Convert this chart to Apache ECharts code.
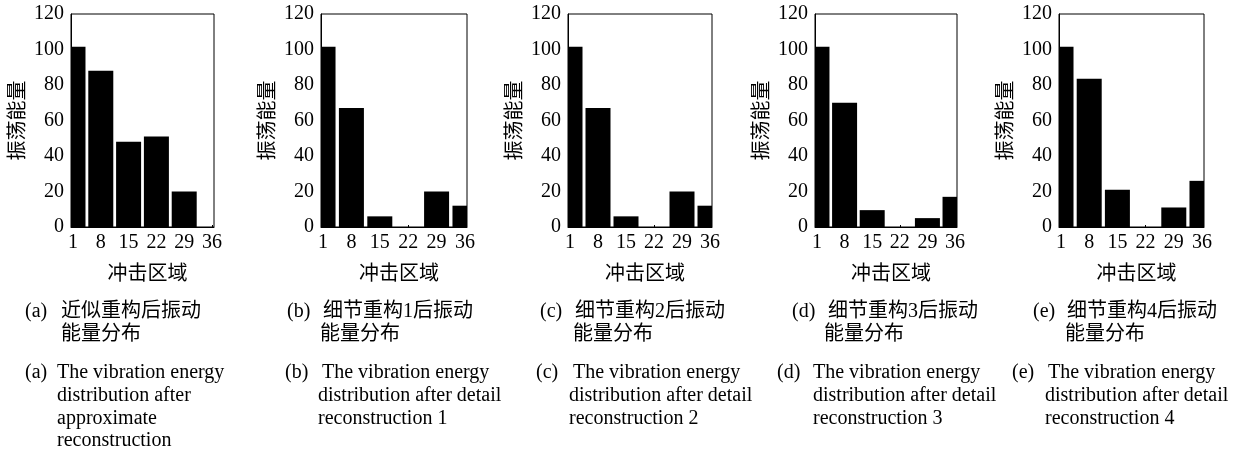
<!DOCTYPE html>
<html><head><meta charset="utf-8">
<script src="https://cdn.jsdelivr.net/npm/echarts@6/dist/echarts.min.js"></script>
<style>html,body{margin:0;padding:0;background:#fff}#c{width:1254px;height:455px}</style>
</head><body><div id="c"></div>
<script>
// ---- data ----
const regions = [1, 8, 15, 22, 29, 36];
const energyA = [101.5, 88, 48, 51, 20, 0];
const energyB = [101.5, 67, 6, 0, 20, 12];
const energyC = [101.5, 67, 6, 0, 20, 12];
const energyD = [101.5, 70, 9.5, 0, 5, 17];
const energyE = [101.5, 83.5, 21, 0, 11, 26];
const panelTags = ['(a)', '(b)', '(c)', '(d)', '(e)'];
const zhTitles = [
  ['近似重构后振动', '能量分布'],
  ['细节重构1后振动', '能量分布'],
  ['细节重构2后振动', '能量分布'],
  ['细节重构3后振动', '能量分布'],
  ['细节重构4后振动', '能量分布']
];
const enTitles = [
  ['The vibration energy', 'distribution after', 'approximate', 'reconstruction'],
  ['The vibration energy', 'distribution after detail', 'reconstruction 1'],
  ['The vibration energy', 'distribution after detail', 'reconstruction 2'],
  ['The vibration energy', 'distribution after detail', 'reconstruction 3'],
  ['The vibration energy', 'distribution after detail', 'reconstruction 4']
];
const xName = '冲击区域';
const yName = '振荡能量';
const allEnergy = [energyA, energyB, energyC, energyD, energyE];

// ---- layout ----
const gridLeft = [71, 321, 568, 815, 1059];
const gridWidth = [143, 146, 144, 142, 145];
const gridTop = 14, gridHeight = 213;
const barPx = 25;
// caption x positions: [zhTag, zhLine1, zhLine2, enTag, enLine1, enRest]
const capX = [
  [25, 61, 61, 25, 57, 57],
  [287, 323, 320, 285, 322, 318],
  [540, 575, 573, 536, 573, 569],
  [792, 828, 824, 777, 813, 813],
  [1033, 1067, 1065, 1012, 1048, 1045]
];
const zhY = [312, 335];
const enY = [373, 396, 419, 441];

const serif = '"Liberation Serif","Times New Roman",serif';
const cjk = '"Liberation Serif","Noto Sans CJK SC",sans-serif';

function renderBar(params, api) {
  const x = api.value(0), v = api.value(1);
  if (!(v > 0)) return null;
  const p0 = api.coord([x, 0]);
  const p1 = api.coord([x, v]);
  const rect = {x: p0[0] - barPx / 2, y: p1[1], width: barPx, height: p0[1] - p1[1]};
  const cs = params.coordSys;
  const clipped = echarts.graphic.clipRectByRect(rect, {x: cs.x, y: cs.y, width: cs.width, height: cs.height});
  if (!clipped) return null;
  return {type: 'rect', shape: clipped, style: {fill: '#000'}};
}

const grids = [], xAxes = [], yAxes = [], series = [], graphics = [];
allEnergy.forEach((vals, i) => {
  grids.push({left: gridLeft[i], width: gridWidth[i], top: gridTop, height: gridHeight,
    show: true, borderColor: '#000', borderWidth: 1, backgroundColor: 'transparent',
    containLabel: false, outerBoundsMode: 'none'});
  xAxes.push({gridIndex: i, type: 'value', min: 0.5, max: 36.5,
    axisLine: {show: true, onZero: false, lineStyle: {color: '#000', width: 1}},
    axisTick: {show: true, inside: true, length: 2, customValues: regions, lineStyle: {color: '#000'}},
    axisLabel: {show: true, customValues: regions, margin: 6, color: '#000', fontSize: 20, fontFamily: serif},
    splitLine: {show: false},
    name: xName, nameLocation: 'middle', nameGap: 38,
    nameTextStyle: {color: '#000', fontSize: 20, fontFamily: cjk, padding: [0, 0, 0, 10]}
  });
  yAxes.push({gridIndex: i, type: 'value', min: 0, max: 120, interval: 20,
    axisLine: {show: true, lineStyle: {color: '#000', width: 1}},
    axisTick: {show: false},
    axisLabel: {show: true, margin: 7, color: '#000', fontSize: 20, fontFamily: serif},
    splitLine: {show: false},
    name: yName, nameLocation: 'middle', nameGap: 38,
    nameTextStyle: {color: '#000', fontSize: 20, fontFamily: cjk, padding: [0, 0, 4, 0]}
  });
  series.push({type: 'custom', xAxisIndex: i, yAxisIndex: i, silent: true, clip: true,
    renderItem: renderBar,
    encode: {x: 0, y: 1},
    data: regions.map((r, j) => [r, vals[j]])
  });
  const cx = capX[i];
  const txt = (text, x, y, font) => ({type: 'text', x: x, y: y, silent: true,
    style: {text: text, fill: '#000', font: font, textAlign: 'left', textVerticalAlign: 'middle', align: 'left', verticalAlign: 'middle'}});
  graphics.push(txt(panelTags[i], cx[0], zhY[0], '20px ' + serif));
  graphics.push(txt(zhTitles[i][0], cx[1], zhY[0], '20px ' + cjk));
  graphics.push(txt(zhTitles[i][1], cx[2], zhY[1], '20px ' + cjk));
  graphics.push(txt(panelTags[i], cx[3], enY[0], '20px ' + serif));
  enTitles[i].forEach((line, k) => {
    graphics.push(txt(line, k === 0 ? cx[4] : cx[5], enY[k], '20px ' + serif));
  });
});

const chart = echarts.init(document.getElementById('c'), null, {renderer: 'canvas'});
chart.setOption({
  animation: false,
  backgroundColor: '#fff',
  grid: grids, xAxis: xAxes, yAxis: yAxes, series: series,
  graphic: {elements: graphics}
});
</script></body></html>
